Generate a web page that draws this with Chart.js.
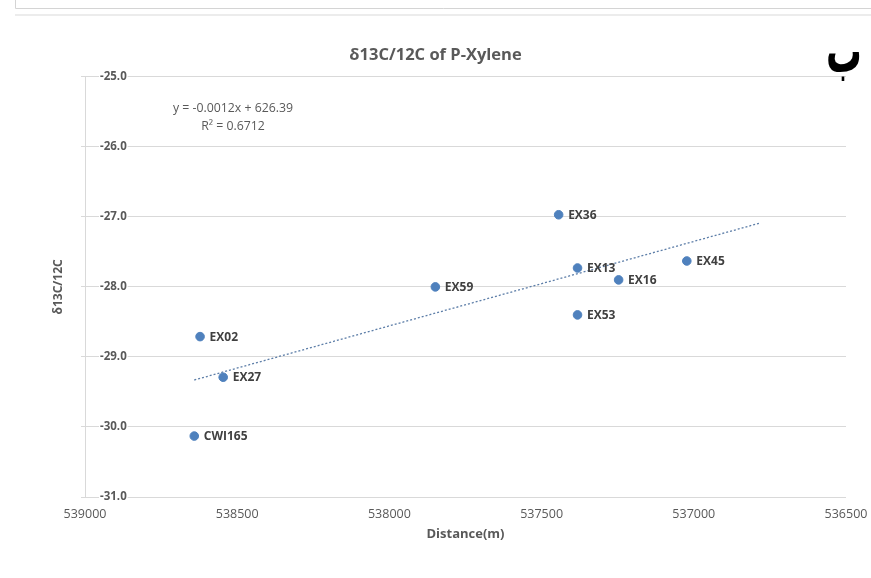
<!DOCTYPE html>
<html>
<head>
<meta charset="utf-8">
<title>p-Xylene isotope ratio vs distance</title>
<script src="https://cdn.jsdelivr.net/npm/chart.js@4.4.0/dist/chart.umd.min.js"></script>
<style>
  html, body { margin: 0; padding: 0; background: #fff; }
  canvas { display: block; }
</style>
</head>
<body>
<canvas id="chart" width="871" height="578"></canvas>
<script>
// sampling wells
var wellNames = ['CWI165', 'EX02', 'EX27', 'EX59', 'EX36', 'EX13', 'EX53', 'EX16', 'EX45'];
var distances = [538641, 538622, 538546, 537849, 537444, 537382, 537382, 537247, 537023];
var deltaValues = [-30.13, -28.71, -29.29, -28.00, -26.97, -27.73, -28.40, -27.90, -27.63];

// axis ticks
var xTicks = [539000, 538500, 538000, 537500, 537000, 536500];
var yTicks = [-31, -30, -29, -28, -27, -26, -25];

// trendline runs from the first well and is projected a bit past the last one
var trendRange = [538641, 536783];
var equationLines = ['y = -0.0012x + 626.39', 'R\u00b2 = 0.6712'];

var grey = '#595959';
var gridColor = '#d9d9d9';
var fontFamily = '"Open Sans", "DejaVu Sans", sans-serif';

var points = [];
for (var i = 0; i < distances.length; ++i) {
  points.push({ x: distances[i], y: deltaValues[i] });
}

// least squares fit for the linear trendline
function linearFit(xs, ys) {
  var n = xs.length, mx = 0, my = 0, sxy = 0, sxx = 0;
  for (var i = 0; i < n; ++i) { mx += xs[i]; my += ys[i]; }
  mx /= n; my /= n;
  for (var j = 0; j < n; ++j) {
    sxy += (xs[j] - mx) * (ys[j] - my);
    sxx += (xs[j] - mx) * (xs[j] - mx);
  }
  var slope = sxy / sxx;
  return { slope: slope, intercept: my - slope * mx };
}
var fit = linearFit(distances, deltaValues);
var trendPoints = trendRange.map(function (x) {
  return { x: x, y: fit.slope * x + fit.intercept };
});

function setTicks(values) {
  return function (scale) {
    scale.ticks = values.map(function (v) { return { value: v }; });
  };
}

// labels, equation box and the page marks around the chart
var annotations = {
  id: 'annotations',
  beforeDraw: function (chart) {
    var ctx = chart.ctx;
    ctx.save();
    ctx.strokeStyle = '#d4d4d4';
    ctx.lineWidth = 1;
    ctx.beginPath();
    ctx.moveTo(15.5, 0);
    ctx.lineTo(15.5, 8.5);
    ctx.lineTo(871, 8.5);
    ctx.stroke();
    ctx.strokeStyle = '#ececec';
    ctx.lineWidth = 2;
    ctx.beginPath();
    ctx.moveTo(15, 15);
    ctx.lineTo(871, 15);
    ctx.stroke();
    ctx.restore();
  },
  afterDatasetsDraw: function (chart) {
    var ctx = chart.ctx;
    var area = chart.chartArea;
    var meta = chart.getDatasetMeta(0);
    ctx.save();

    ctx.font = 'bold 12px ' + fontFamily;
    ctx.fillStyle = '#404040';
    ctx.textAlign = 'left';
    ctx.textBaseline = 'middle';
    meta.data.forEach(function (pt, i) {
      ctx.fillText(wellNames[i], pt.x + 9.5, pt.y + 0.5);
    });

    ctx.font = '12.3px ' + fontFamily;
    ctx.fillStyle = grey;
    ctx.textAlign = 'center';
    ctx.fillText(equationLines[0], area.left + 148, area.top + 32);
    ctx.fillText(equationLines[1], area.left + 148, area.top + 50);
    ctx.restore();
  },
  afterDraw: function (chart) {
    // panel letter in the top right corner
    var ctx = chart.ctx;
    ctx.save();
    ctx.translate(844, 72);
    ctx.scale(0.85, 1.45);
    ctx.font = 'bold 42px "DejaVu Sans", sans-serif';
    ctx.fillStyle = '#000';
    ctx.textAlign = 'center';
    ctx.textBaseline = 'alphabetic';
    ctx.fillText('\u0628', 0, 0);
    ctx.restore();
  }
};

var ctx = document.getElementById('chart').getContext('2d');
var chart = new Chart(ctx, {
  type: 'scatter',
  data: {
    datasets: [{
      label: 'δ13C/12C',
      data: points,
      backgroundColor: '#4f81bd',
      borderColor: '#4f81bd',
      pointRadius: 4.3,
      pointHoverRadius: 4.3,
      order: 1
    }, {
      label: 'Linear trend',
      data: trendPoints,
      showLine: true,
      borderColor: '#5d7ea8',
      borderWidth: 1.3,
      borderDash: [2, 2],
      pointRadius: 0,
      fill: false,
      order: 2
    }]
  },
  options: {
    responsive: false,
    animation: false,
    devicePixelRatio: 1,
    layout: { padding: { left: 0, right: 0, top: 0, bottom: 0 } },
    plugins: {
      legend: { display: false },
      tooltip: { enabled: false },
      title: {
        display: true,
        text: 'δ13C/12C of P-Xylene',
        color: grey,
        font: { family: fontFamily, size: 16.5, weight: 'bold' },
        padding: { top: 45, bottom: 12 }
      }
    },
    scales: {
      x: {
        type: 'linear',
        reverse: true,
        min: 536500,
        max: 539000,
        afterBuildTicks: setTicks(xTicks),
        afterFit: function (scale) {
          scale.height = 81;
          scale.paddingRight = 25;
        },
        grid: { display: false, drawTicks: false },
        border: { display: false },
        ticks: {
          color: grey,
          padding: 10,
          maxRotation: 0,
          font: { family: fontFamily, size: 12.5 },
          callback: function (v) { return String(v); }
        },
        title: {
          display: true,
          text: 'Distance(m)',
          color: grey,
          font: { family: fontFamily, size: 13, weight: 'bold' },
          padding: { top: 0, bottom: 36 }
        }
      },
      y: {
        type: 'linear',
        min: -31,
        max: -25,
        afterBuildTicks: setTicks(yTicks),
        afterFit: function (scale) { scale.width = 85; },
        grid: { color: gridColor, lineWidth: 1, tickLength: 4, drawTicks: true },
        border: { display: true, color: gridColor, width: 1 },
        ticks: {
          mirror: true,
          padding: 15,
          color: grey,
          font: { family: fontFamily, size: 11.5, weight: 'bold' },
          showLabelBackdrop: true,
          backdropColor: '#fff',
          backdropPadding: { x: 1, y: 2 },
          callback: function (v) { return v.toFixed(1); }
        },
        title: {
          display: true,
          text: 'δ13C/12C',
          color: grey,
          font: { family: fontFamily, size: 12, weight: 'bold' },
          padding: { top: 51, bottom: 0 }
        }
      }
    }
  },
  plugins: [annotations]
});
</script>
</body>
</html>
